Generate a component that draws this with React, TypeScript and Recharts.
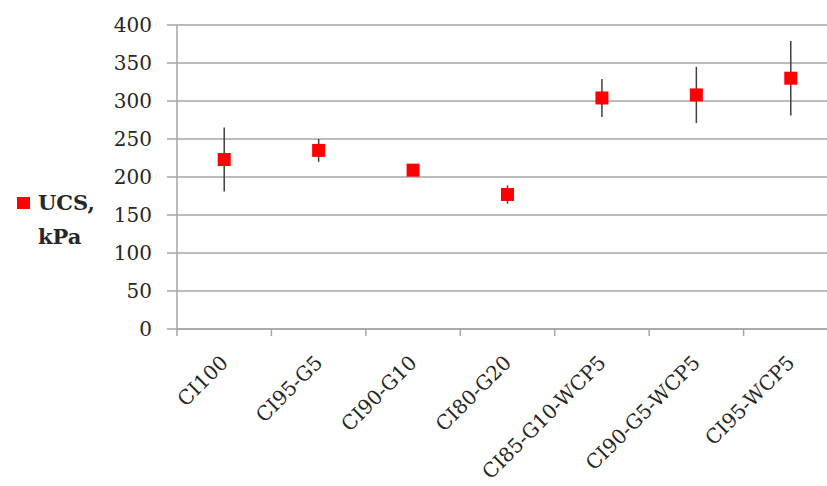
import React from 'react';
import { ScatterChart, Scatter, XAxis, YAxis, CartesianGrid, ErrorBar, Legend } from 'recharts';

const categories = ['CI100', 'CI95-G5', 'CI90-G10', 'CI80-G20', 'CI85-G10-WCP5', 'CI90-G5-WCP5', 'CI95-WCP5'];
const ucs = [223, 235, 209, 177, 304, 308, 330];
const ucsErr = [42, 15, 4, 12, 25, 37, 49];
const yTicks = [0, 50, 100, 150, 200, 250, 300, 350, 400];

const data = categories.map((name, i) => ({ name, x: i + 0.5, ucs: ucs[i], err: ucsErr[i] }));
// boundary ticks (integers) get a tick mark, centres (halves) get the label
const xTicks = Array.from({ length: categories.length * 2 + 1 }, (_, i) => i / 2);

const FONT = '"DejaVu Serif", serif';
const TEXT = '#262626';
const GRID = '#a6a6a6';

const XTick = (props: any) => {
  const { x, y, payload } = props;
  const v = payload.value;
  if (Number.isInteger(v)) {
    return <line x1={x} y1={y} x2={x} y2={y + 7} stroke={GRID} strokeWidth={1.5} />;
  }
  const label = categories[Math.floor(v)];
  return (
    <text
      x={x + 5}
      y={y + 35}
      textAnchor="end"
      transform={`rotate(-45, ${x + 5}, ${y + 35})`}
      fill={TEXT}
      fontFamily={FONT}
      fontSize={20}
    >
      {label}
    </text>
  );
};

const Square = (props: any) => {
  const { cx, cy } = props;
  return <rect x={cx - 6.5} y={cy - 6.5} width={13} height={13} fill="#ff0000" />;
};

const LegendBox = () => (
  <div style={{ fontFamily: FONT, fontWeight: 'bold', fontSize: 21, lineHeight: '34px', color: TEXT }}>
    <div style={{ display: 'flex', alignItems: 'center' }}>
      <span style={{ display: 'inline-block', width: 13, height: 12, background: '#ff0000', marginRight: 8 }} />
      <span>UCS,</span>
    </div>
    <div style={{ paddingLeft: 21 }}>kPa</div>
  </div>
);

export default function App() {
  return (
    <div style={{ position: 'absolute', left: 0, top: 0, width: 827, height: 486, overflow: 'hidden', background: '#fff' }}>
      <ScatterChart width={838} height={486} margin={{ top: 25, right: 0, bottom: 0, left: 0 }}>
        <CartesianGrid vertical={false} stroke={GRID} strokeWidth={1.5} />
        <XAxis
          type="number"
          dataKey="x"
          domain={[0, categories.length]}
          ticks={xTicks}
          interval={0}
          tickLine={false}
          tickSize={0}
          tickMargin={0}
          tick={<XTick />}
          axisLine={{ stroke: GRID, strokeWidth: 1.5 }}
          height={157}
        />
        <YAxis
          type="number"
          dataKey="ucs"
          domain={[0, 400]}
          ticks={yTicks}
          interval={0}
          width={177}
          tickSize={10}
          tickMargin={15}
          tickLine={{ stroke: GRID, strokeWidth: 1.5 }}
          axisLine={{ stroke: GRID, strokeWidth: 1.5 }}
          tick={{ fill: TEXT, fontFamily: FONT, fontSize: 20 }}
        />
        <Legend
          layout="horizontal"
          verticalAlign="middle"
          content={<LegendBox />}
          wrapperStyle={{ left: 17, top: 186, width: 120 }}
        />
        <Scatter name="UCS, kPa" data={data} shape={<Square />} isAnimationActive={false}>
          <ErrorBar dataKey="err" direction="y" width={0} stroke="#404040" strokeWidth={1.5} />
        </Scatter>
      </ScatterChart>
    </div>
  );
}
